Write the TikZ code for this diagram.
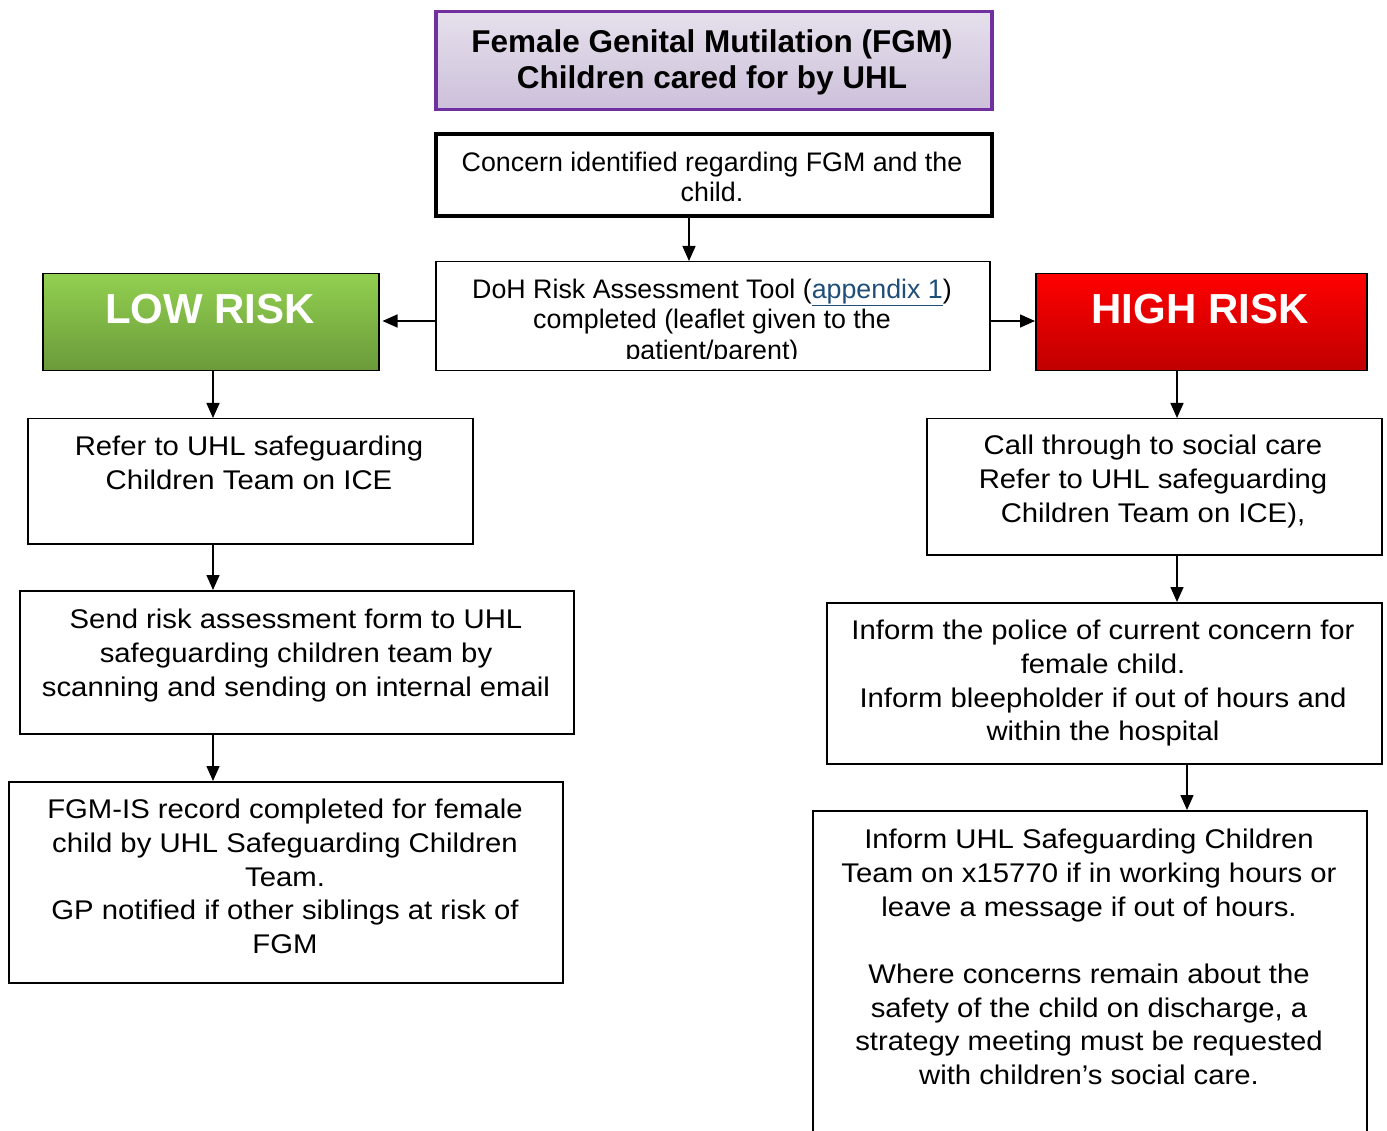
\documentclass[tikz,border=0pt]{standalone}
\usepackage{fontspec}
\setmainfont{Liberation Sans}
\newfontfamily\bodyfont[FakeStretch=1.085]{Liberation Sans}
\usetikzlibrary{arrows.meta,calc}
\definecolor{purp}{HTML}{7030A0}
\definecolor{lavtop}{HTML}{E6E0EC}
\definecolor{lavbot}{HTML}{CCC0DA}
\definecolor{grtop}{HTML}{92D050}
\definecolor{grbot}{HTML}{6A9A3A}
\definecolor{rdtop}{HTML}{FF0000}
\definecolor{rdbot}{HTML}{C00000}
\definecolor{linkblue}{HTML}{1F4E79}
\begin{document}
\begin{tikzpicture}[x=1pt,y=-1pt,
  box/.style={draw=black, line width=1.5pt, fill=white, inner sep=0pt, anchor=north west},
  txt/.style={font=\bodyfont\fontsize{27}{33.7}\selectfont, align=center, inner sep=0pt, anchor=north},
  stxt/.style={font=\fontsize{26.8}{30.3}\selectfont, align=center, inner sep=0pt, anchor=north},
  risktxt/.style={font=\fontsize{42}{48}\selectfont\bfseries, text=white, inner sep=0pt, anchor=north},
  arr/.style={line width=1.5pt, -{Triangle[length=15pt,width=13pt]}},
]
\useasboundingbox (0,0) rectangle (1387,1131);
\clip (0,0) rectangle (1387,1131);

% boxes
\node[box, draw=purp, line width=3.5pt, top color=lavtop, bottom color=lavbot,
      minimum width=556pt, minimum height=98pt] (title) at (434,10) {};
\node[box, line width=4pt, minimum width=556pt, minimum height=82pt] (concern) at (434,132) {};
\node[box, minimum width=554pt, minimum height=109pt] (doh) at (435,261) {};
\node[box, top color=grtop, bottom color=grbot, minimum width=336pt, minimum height=97pt] (low) at (42,273) {};
\node[box, top color=rdtop, bottom color=rdbot, minimum width=331pt, minimum height=97pt] (high) at (1035,273) {};
\node[box, minimum width=445pt, minimum height=125pt] (refer) at (27,418) {};
\node[box, minimum width=554pt, minimum height=143pt] (send) at (19,590) {};
\node[box, minimum width=554pt, minimum height=201pt] (fgmis) at (8,781) {};
\node[box, minimum width=455pt, minimum height=136pt] (call) at (926,418) {};
\node[box, minimum width=555pt, minimum height=161pt] (police) at (826,602) {};
\node[box, minimum width=554pt, minimum height=340pt] (uhl) at (812,810) {};

% texts
\node[inner sep=0pt, anchor=north, align=center, font=\fontsize{31.5}{36}\selectfont\bfseries] (titlet) at (712,29)
  {Female Genital Mutilation (FGM)\\Children cared for by UHL};
\node[stxt] (concernt) at (712,152) {Concern identified regarding FGM and the\\child.};
\begin{scope}
  \clip (doh.north west) rectangle (989,359);
  \node[stxt] (doht) at (712,279) {DoH Risk Assessment Tool ({\color{linkblue}\underline{appendix 1}})\\completed (leaflet given to the\\patient/parent)};
\end{scope}
\node[risktxt] (lowt) at (210,294) {LOW RISK};
\node[risktxt] (hight) at (1200,294) {HIGH RISK};
\node[txt] (refert) at (249,436) {Refer to UHL safeguarding\\Children Team on ICE};
\node[txt] (sendt) at (296,609) {Send risk assessment form to UHL\\safeguarding children team by\\scanning and sending on internal email};
\node[txt] (fgmist) at (285,799) {FGM-IS record completed for female\\child by UHL Safeguarding Children\\Team.\\GP notified if other siblings at risk of\\FGM};
\node[txt] (callt) at (1153,435) {Call through to social care\\Refer to UHL safeguarding\\Children Team on ICE),};
\node[txt] (policet) at (1103,620) {Inform the police of current concern for\\female child.\\Inform bleepholder if out of hours and\\within the hospital};
\node[txt] (uhlt) at (1089,829) {Inform UHL Safeguarding Children\\Team on x15770 if in working hours or\\leave a message if out of hours.\\[33.7pt]Where concerns remain about the\\safety of the child on discharge, a\\strategy meeting must be requested\\with children’s social care.};

% connectors
\coordinate (xc) at (689,0);
\coordinate (xl) at (213,0);
\coordinate (xr) at (1177,0);
\coordinate (xr2) at (1187,0);
\coordinate (ym) at (0,321);
\draw[arr] (concern.south -| xc) -- (doh.north -| xc);
\draw[arr, shorten >=3pt] (doh.west |- ym) -- (low.east |- ym);
\draw[arr] (doh.east |- ym) -- (high.west |- ym);
\draw[arr] (low.south -| xl) -- (refer.north -| xl);
\draw[arr] (refer.south -| xl) -- (send.north -| xl);
\draw[arr] (send.south -| xl) -- (fgmis.north -| xl);
\draw[arr] (high.south -| xr) -- (call.north -| xr);
\draw[arr] (call.south -| xr) -- (police.north -| xr);
\draw[arr] (police.south -| xr2) -- (uhl.north -| xr2);
\end{tikzpicture}
\end{document}
